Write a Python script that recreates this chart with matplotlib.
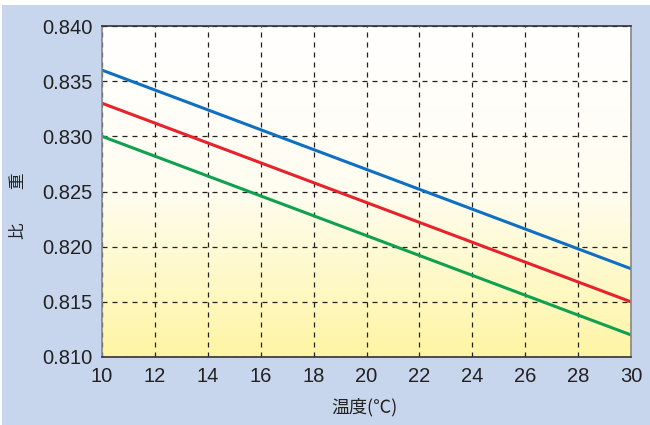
import numpy as np
import matplotlib.pyplot as plt
from matplotlib.patches import Rectangle
from matplotlib.colors import LinearSegmentedColormap

temps = [10, 20, 30]
blue_sg = [0.836, 0.827, 0.818]
red_sg = [0.833, 0.824, 0.815]
green_sg = [0.830, 0.821, 0.812]

x_ticks = list(range(10, 31, 2))
y_ticks = [0.810, 0.815, 0.820, 0.825, 0.830, 0.835, 0.840]
y_tick_labels = ["0.810", "0.815", "0.820", "0.825", "0.830", "0.835", "0.840"]

plt.rcParams["font.family"] = ["Liberation Sans", "Noto Sans CJK JP", "DejaVu Sans"]

fig = plt.figure(figsize=(6.5, 4.25), dpi=100, facecolor="white")
fig.patches.append(Rectangle((2 / 650, 0), 1, 1 - 5 / 425, transform=fig.transFigure,
                             facecolor="#c7d5ed", edgecolor="none", zorder=-10))

ax = fig.add_axes([102 / 650, 1 - 357 / 425, 529 / 650, 331 / 425])

# white at top fading to pale yellow at the bottom
cmap = LinearSegmentedColormap.from_list("bg", ["#fef5a4", "#fffdf0", "#ffffff"])
grad = np.linspace(0, 1, 256).reshape(-1, 1)
ax.imshow(grad, cmap=cmap, origin="lower", aspect="auto",
          extent=(10, 30, 0.810, 0.840), zorder=0)

ax.plot(temps, blue_sg, color="#0f6fc0", lw=2.2, zorder=3)
ax.plot(temps, red_sg, color="#e8222c", lw=2.2, zorder=3)
ax.plot(temps, green_sg, color="#0fa050", lw=2.2, zorder=3)

ax.set_xlim(10, 30)
ax.set_ylim(0.810, 0.840)
ax.set_xticks(x_ticks)
ax.set_yticks(y_ticks)
ax.set_yticklabels(y_tick_labels)
ax.tick_params(length=0, labelsize=14.5, colors="#222222", pad=7)
ax.grid(True, color="#222222", linestyle=(0, (4, 4)), linewidth=0.9, zorder=2)
ax.set_axisbelow(False)

for side in ("top", "bottom"):
    ax.spines[side].set_color("#333333")
for side in ("left", "right"):
    ax.spines[side].set_color("#888888")
for sp in ax.spines.values():
    sp.set_linewidth(1.2)
    sp.set_zorder(4)

fig.text(364 / 650, 1 - 407 / 425, "温度(℃)", ha="center", va="center",
         fontsize=13, color="#222222", family=["Noto Sans CJK JP", "DejaVu Sans"])
fig.text(19 / 650, 1 - 206 / 425, "比　　重", ha="center", va="center", rotation=90,
         fontsize=12, color="#222222", family=["Noto Sans CJK JP", "DejaVu Sans"])

fig.savefig("out.png", dpi=100)
